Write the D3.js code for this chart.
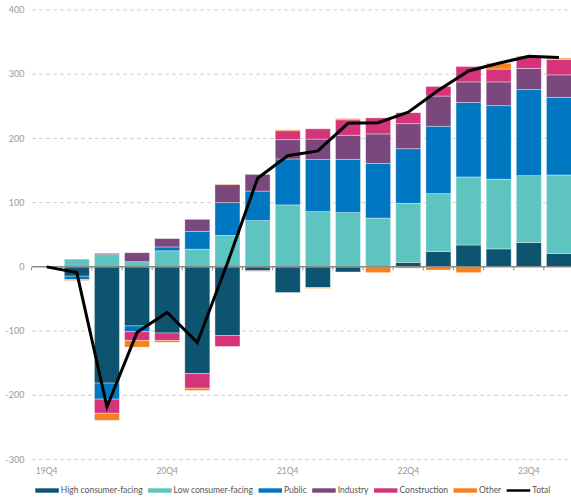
<!DOCTYPE html>
<html><head><meta charset="utf-8">
<script src="https://cdn.jsdelivr.net/npm/d3@7"></script>
<style>
html,body{margin:0;padding:0;background:#fff;}
svg{display:block;font-family:Lato,"Open Sans",sans-serif;}
</style></head>
<body>
<svg id="chart" width="571" height="500"></svg>
<script>
const categories = ["19Q4","20Q1","20Q2","20Q3","20Q4","21Q1","21Q2","21Q3","21Q4","22Q1","22Q2","22Q3","22Q4","23Q1","23Q2","23Q3","23Q4","24Q1"];
const highConsumer = [0,-14.5,-181,-92,-103,-166,-107,-6,-40,-32,-8,0,7,24,34,28,38,21];
const lowConsumer  = [0,12,19,8,25,27.5,49,72,96.5,86,84.5,76,92,90,106,108.5,104,122];
const publicSector = [0,-5,-25,-9,6,27.5,51,46,71.5,81,83,85,85,105,116,114.5,134,121];
const industry     = [0,0,2,14,13,19,28,26,30,32,37.5,46,39,47,32,37,33,35];
const construction = [0,-1,-22,-13.5,-11.5,-23,-17,0,14,16,24,25,17,15,24,20,17,24];
const other        = [0,-1,-11,-10.5,-3,-3.5,1,-1,1.5,-1.5,2,-9,-2,-5,-9,9,2,2];
const total        = [0,-9,-218,-102,-71,-118,6,138,173,180.5,223.6,224.6,241,275,305,317,328,326];
const seriesNames  = ["High consumer-facing","Low consumer-facing","Public","Industry","Construction","Other"];
const seriesColors = ["#0d5470","#5ec4bf","#0078c1","#7b487d","#d5347b","#f58220"];
const totalName = "Total";
const yTicks = [-300,-200,-100,0,100,200,300,400];
const labelTicks = ["19Q4","20Q4","21Q4","22Q4","23Q4"];

const seriesValues = [highConsumer, lowConsumer, publicSector, industry, construction, other];
const rows = categories.map((c,i)=>{
  const r = {cat:c};
  seriesNames.forEach((s,k)=> r[s] = seriesValues[k][i]);
  return r;
});

const svg = d3.select("#chart");
const x = d3.scaleBand().domain(categories).range([31.6, 574]).paddingInner(0.17).paddingOuter(0.085);
const y = d3.scaleLinear().domain([-300,400]).range([459.5, 10]);

// gridlines
svg.append("g").selectAll("line").data(yTicks.filter(d=>d!==0)).join("line")
  .attr("x1",32).attr("x2",571).attr("y1",d=>y(d)).attr("y2",d=>y(d))
  .attr("stroke","#d0d0d0").attr("stroke-width",1).attr("stroke-dasharray","4,3");

// y labels
svg.append("g").selectAll("text").data(yTicks).join("text")
  .attr("x",24.5).attr("y",d=>y(d)).attr("dy","0.35em").attr("text-anchor","end")
  .attr("font-size",9).attr("fill","#999").text(d=>d);

// stacks
const stack = d3.stack().keys(seriesNames).offset(d3.stackOffsetDiverging);
const stacked = stack(rows);
svg.append("g").selectAll("g").data(stacked).join("g")
  .attr("fill",(d,i)=>seriesColors[i])
  .selectAll("rect").data(d=>d).join("rect")
  .attr("x",d=>x(d.data.cat)).attr("width",x.bandwidth())
  .attr("y",d=>y(Math.max(d[0],d[1])))
  .attr("height",d=>Math.abs(y(d[0])-y(d[1])))
  .attr("stroke","#fff").attr("stroke-opacity",0.45).attr("stroke-width",0.8);

// zero line with ticks
svg.append("line").attr("x1",32).attr("x2",571).attr("y1",y(0)).attr("y2",y(0))
  .attr("stroke","#8a8a8a").attr("stroke-width",1.5);
const half = x.step()*x.paddingInner()/2;
svg.append("g").selectAll("line").data(categories).join("line")
  .attr("x1",d=>x(d)-half).attr("x2",d=>x(d)-half)
  .attr("y1",y(0)).attr("y2",y(0)+3.5)
  .attr("stroke","#8a8a8a").attr("stroke-width",1);

// total line
const line = d3.line().x((d,i)=>x(categories[i])+x.bandwidth()/2).y(d=>y(d));
svg.append("path").datum(total).attr("d",line)
  .attr("fill","none").attr("stroke","#000").attr("stroke-width",3).attr("stroke-linejoin","miter");

// x labels
const xAxis = d3.axisBottom(x).tickValues(labelTicks).tickSize(0);
const gx = svg.append("g").attr("transform","translate(0,464.5)").call(xAxis);
gx.select(".domain").remove();
gx.selectAll("text").attr("font-size",8.5).attr("fill","#999").attr("font-family","Lato");

// legend
const legendItems = seriesNames.map((n,i)=>({name:n,color:seriesColors[i],type:"rect"}))
  .concat([{name:totalName,color:"#000",type:"line"}]);
const lg = svg.append("g").attr("transform","translate(35.3,490.5)");
let cx = 0;
legendItems.forEach(it=>{
  const g = lg.append("g").attr("transform",`translate(${cx},0)`);
  if(it.type==="rect") g.append("rect").attr("x",0).attr("y",-2.2).attr("width",23.5).attr("height",4.4).attr("fill",it.color);
  else g.append("line").attr("x1",0).attr("x2",23.5).attr("y1",0).attr("y2",0).attr("stroke",it.color).attr("stroke-width",2.5);
  const t = g.append("text").attr("x",25.5).attr("y",0).attr("dy","0.35em")
    .attr("font-size",8.5).attr("fill","#555").text(it.name);
  cx += 25.5 + t.node().getComputedTextLength() + 5.5;
});
</script>
</body></html>
